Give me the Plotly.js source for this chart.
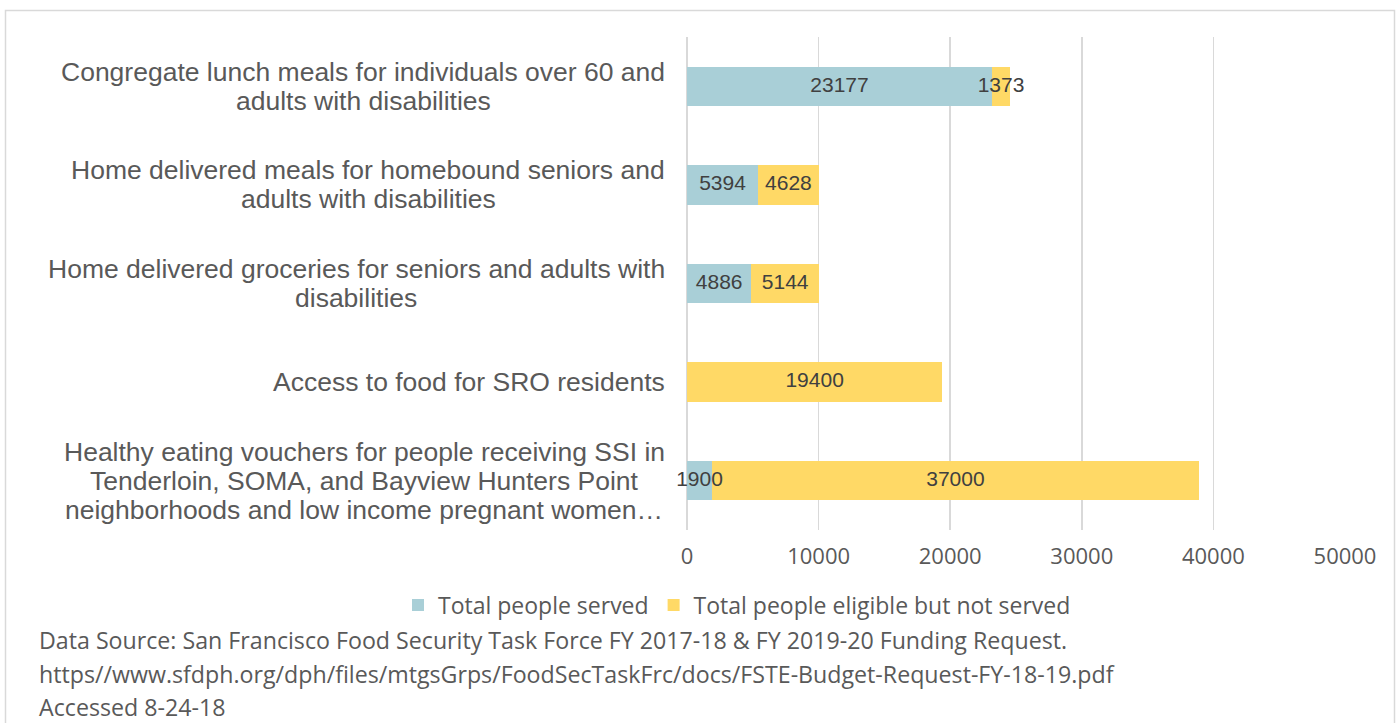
<!DOCTYPE html>
<html>
<head>
<meta charset="utf-8">
<script src="https://cdn.plot.ly/plotly-3.0.1.min.js"></script>
<style>
  html, body { margin: 0; padding: 0; background: #ffffff; }
  #chart { width: 1400px; height: 723px; }
</style>
</head>
<body>
<div id="chart"></div>
<script>
const categories = [
  "Congregate lunch meals for individuals over 60 and adults with disabilities",
  "Home delivered meals for homebound seniors and adults with disabilities",
  "Home delivered groceries for seniors and adults with disabilities",
  "Access to food for SRO residents",
  "Healthy eating vouchers for people receiving SSI in Tenderloin, SOMA, and Bayview Hunters Point neighborhoods and low income pregnant women…"
];
const categoryLines = [
  ["Congregate lunch meals for individuals over 60 and", "adults with disabilities"],
  ["Home delivered meals for homebound seniors and", "adults with disabilities"],
  ["Home delivered groceries for seniors and adults with", "disabilities"],
  ["Access to food for SRO residents"],
  ["Healthy eating vouchers for people receiving SSI in", "Tenderloin, SOMA, and Bayview Hunters Point", "neighborhoods and low income pregnant women…"]
];
const served = [23177, 5394, 4886, 0, 1900];
const notServed = [1373, 4628, 5144, 19400, 37000];
const seriesNames = ["Total people served", "Total people eligible but not served"];
const xTicks = [0, 10000, 20000, 30000, 40000, 50000];
const footerLines = [
  "Data Source: San Francisco Food Security Task Force FY 2017-18 & FY 2019-20 Funding Request.",
  "https//www.sfdph.org/dph/files/mtgsGrps/FoodSecTaskFrc/docs/FSTE-Budget-Request-FY-18-19.pdf",
  "Accessed 8-24-18"
];

const BLUE = "#A9CFD7";
const YELLOW = "#FFD966";
const LABEL = "#404040";
const GREY = "#595959";
const ARIAL = "Liberation Sans, Arial, sans-serif";
const CALIBRI = "Open Sans, Lato, sans-serif";
const CAT_SIZE = 26.5;

const W = 1400, H = 723;
const L = 687, R = 55, T = 37, B = 193;
const plotW = W - L - R, plotH = H - T - B;
const px2x = p => (p - L) / plotW;
const py2y = p => (H - B - p) / plotH;

// measure text widths to center wrapped lines under a right-aligned block
const ctx = document.createElement("canvas").getContext("2d");
ctx.font = CAT_SIZE + "px 'Liberation Sans'";
const measure = s => ctx.measureText(s).width;

// data labels, centred on each stacked segment, drawn above all bars
const labX = [], labY = [], labT = [];
categories.forEach((c, i) => {
  if (served[i] !== 0) { labX.push(served[i] / 2); labY.push(c); labT.push(String(served[i])); }
  if (notServed[i] !== 0) { labX.push(served[i] + notServed[i] / 2); labY.push(c); labT.push(String(notServed[i])); }
});

const traces = [
  {
    type: "bar", orientation: "h", name: seriesNames[0],
    y: categories, x: served, marker: { color: BLUE }, hoverinfo: "x+name"
  },
  {
    type: "bar", orientation: "h", name: seriesNames[1],
    y: categories, x: notServed, marker: { color: YELLOW }, hoverinfo: "x+name"
  },
  {
    type: "scatter", mode: "text", x: labX, y: labY, text: labT,
    textposition: "middle center", cliponaxis: false, showlegend: false, hoverinfo: "skip",
    textfont: { family: ARIAL, size: 21, color: LABEL }
  }
];

const annotations = [];
const LINE_H = 29, RIGHT_EDGE = 665;
categories.forEach((c, ci) => {
  const lines = categoryLines[ci];
  const maxW = Math.max(...lines.map(measure));
  const cx = RIGHT_EDGE - maxW / 2;
  lines.forEach((ln, i) => {
    annotations.push({
      xref: "paper", yref: "y", x: px2x(cx), y: c, xanchor: "center", yanchor: "middle",
      yshift: -(i - (lines.length - 1) / 2) * LINE_H,
      text: ln, showarrow: false, borderpad: 0,
      font: { family: ARIAL, size: CAT_SIZE, color: GREY }
    });
  });
});
footerLines.forEach((t, i) => {
  annotations.push({
    xref: "paper", yref: "paper", x: px2x(37), y: py2y(640 + i * 33.5),
    xanchor: "left", yanchor: "middle", text: t, showarrow: false, align: "left",
    font: { family: CALIBRI, size: 23.2, color: GREY }
  });
});

const layout = {
  width: W, height: H,
  margin: { l: L, r: R, t: T, b: B },
  paper_bgcolor: "#ffffff", plot_bgcolor: "#ffffff",
  barmode: "stack", bargap: 0.6,
  showlegend: true,
  legend: {
    orientation: "h", x: px2x(398), xanchor: "left", y: py2y(605), yanchor: "middle",
    font: { family: CALIBRI, size: 23, color: GREY }, traceorder: "normal",
    itemwidth: 30
  },
  xaxis: {
    range: [0, 50000], tickvals: xTicks, ticktext: xTicks.map(String),
    showgrid: true, gridcolor: "#D9D9D9", gridwidth: 1.5,
    zeroline: true, zerolinecolor: "#D9D9D9", zerolinewidth: 1.5,
    showline: false, ticks: "", ticklen: 0, ticklabelstandoff: 11,
    tickfont: { family: CALIBRI, size: 22, color: GREY }
  },
  yaxis: {
    autorange: "reversed", showticklabels: false, showgrid: false, zeroline: false,
    showline: false, ticks: ""
  },
  annotations: annotations,
  shapes: [{
    type: "rect", xref: "paper", yref: "paper",
    x0: px2x(5.5), x1: px2x(1394.5), y0: py2y(730), y1: py2y(10.5),
    line: { color: "#D9D9D9", width: 1.5 }, fillcolor: "rgba(0,0,0,0)", layer: "below"
  }]
};

Plotly.newPlot("chart", traces, layout, { displayModeBar: false, staticPlot: true });
</script>
</body>
</html>
